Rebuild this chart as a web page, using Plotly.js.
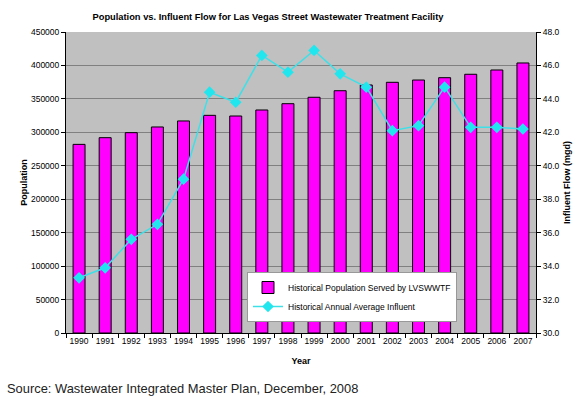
<!DOCTYPE html>
<html>
<head>
<meta charset="utf-8">
<script src="https://cdn.plot.ly/plotly-3.0.1.min.js"></script>
<style>html,body{margin:0;padding:0;background:#fff;}#chart{width:576px;height:399px;}</style>
</head>
<body>
<div id="chart"></div>
<script>
const years = ["1990","1991","1992","1993","1994","1995","1996","1997","1998","1999","2000","2001","2002","2003","2004","2005","2006","2007"];
const population = [282000,292000,299500,308000,317000,325400,324400,333400,342800,352400,362200,370800,374800,378200,381700,386800,393200,403700];
const influent = [33.3,33.9,35.6,36.5,39.2,44.4,43.8,46.6,45.6,46.9,45.5,44.7,42.1,42.4,44.7,42.3,42.3,42.2];

const F = "Arial, 'Liberation Sans', sans-serif";
const data = [
  {type:"bar", x:years, y:population, name:"Historical Population Served by LVSWWTF",
   marker:{color:"#FF00FF", line:{color:"#000000", width:1}}},
  {type:"scatter", mode:"lines+markers", x:years, y:influent, yaxis:"y2",
   name:"Historical Annual Average Influent",
   line:{color:"#3EE0E8", width:1.5},
   marker:{symbol:"diamond", size:9, color:"#22E6EE"}}
];
const layout = {
  width:576, height:399,
  margin:{l:66, r:40, t:32, b:66},
  paper_bgcolor:"#ffffff", plot_bgcolor:"#C0C0C0",
  font:{family:F, size:9, color:"#000"},
  bargap:0.54,
  showlegend:true,
  legend:{x:(247-66)/470, y:(333-272)/301, xanchor:"left", yanchor:"top", bgcolor:"#ffffff",
          bordercolor:"#999999", borderwidth:1, font:{size:8.5, family:F}},
  title:{text:"<b>Population vs. Influent Flow for Las Vegas Street Wastewater Treatment Facility</b>",
         x:268/576, xanchor:"center", y:1-17/399, yanchor:"middle", font:{size:9.3, family:F}},
  xaxis:{type:"category", range:[-0.5, years.length-0.5], automargin:false, showline:true, linecolor:"#000", linewidth:1, ticks:"outside",
         tickson:"boundaries", ticklen:4, tickcolor:"#000", tickfont:{size:8.5}, tickangle:0,
         title:{text:"<b>Year</b>", font:{size:9}, standoff:12}},
  yaxis:{range:[0,450000], dtick:50000, tickformat:"d", automargin:false, showline:true, linecolor:"#000", linewidth:1,
         ticks:"outside", ticklen:4, tickcolor:"#000", gridcolor:"#808080", gridwidth:1,
         zeroline:false, tickfont:{size:8.5},
         title:{text:"<b>Population</b>", font:{size:9}, standoff:1}},
  yaxis2:{range:[30,48], dtick:2, tickformat:".1f", overlaying:"y", side:"right", automargin:false,
          showline:true, linecolor:"#000", linewidth:1, ticks:"outside", ticklen:4, tickcolor:"#000",
          showgrid:false, zeroline:false, tickfont:{size:8.5},
          title:{text:"<b>Influent Flow (mgd)</b>", font:{size:9}, standoff:5}},
  annotations:[{text:"Source: Wastewater Integrated Master Plan, December, 2008", xref:"paper", yref:"paper",
    x:(5-66)/470, y:-56/301, xanchor:"left", yanchor:"middle", showarrow:false,
    font:{size:12.9, family:F, color:"#222"}}]
};
Plotly.newPlot("chart", data, layout, {displayModeBar:false, staticPlot:true});
</script>
</body>
</html>
